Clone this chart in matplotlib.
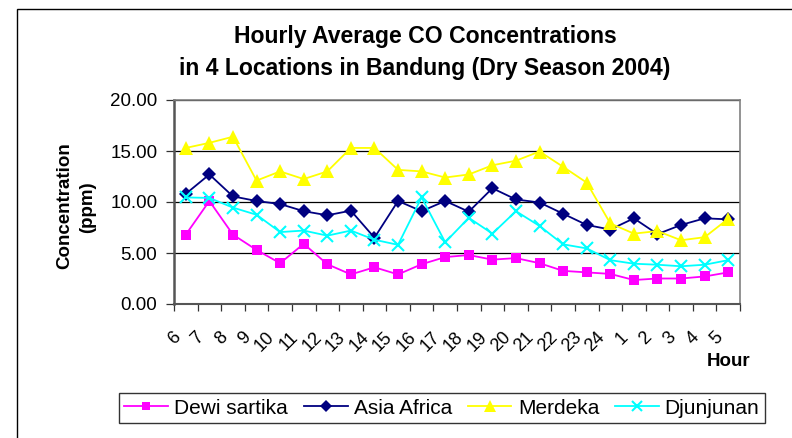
import matplotlib
matplotlib.use("Agg")
import matplotlib.pyplot as plt
from matplotlib.patches import Rectangle
from matplotlib.transforms import ScaledTranslation
from matplotlib.ticker import FormatStrFormatter, FixedLocator

plt.rcParams['font.family'] = ['Liberation Sans', 'DejaVu Sans']

hours = ["6", "7", "8", "9", "10", "11", "12", "13", "14", "15", "16", "17",
         "18", "19", "20", "21", "22", "23", "24", "1", "2", "3", "4", "5"]

dewi_sartika = [6.8, 10.1, 6.8, 5.3, 4.0, 5.9, 3.9, 2.9, 3.6, 2.9, 3.9, 4.6,
                4.8, 4.35, 4.5, 4.0, 3.25, 3.1, 2.95, 2.35, 2.5, 2.5, 2.7, 3.1]
asia_africa = [10.8, 12.7, 10.55, 10.1, 9.8, 9.1, 8.7, 9.15, 6.5, 10.1, 9.1, 10.1,
               9.05, 11.35, 10.25, 9.95, 8.85, 7.75, 7.3, 8.4, 6.85, 7.75, 8.4, 8.3]
merdeka = [15.3, 15.8, 16.4, 12.1, 13.0, 12.25, 13.0, 15.3, 15.3, 13.15, 13.0, 12.4,
           12.7, 13.6, 14.05, 14.95, 13.45, 11.9, 7.9, 6.9, 7.15, 6.25, 6.55, 8.35]
djunjunan = [10.45, 10.4, 9.45, 8.75, 7.05, 7.2, 6.7, 7.2, 6.3, 5.8, 10.45, 6.05,
             8.45, 6.9, 9.1, 7.65, 5.85, 5.45, 4.3, 3.95, 3.85, 3.7, 3.85, 4.3]

series_names = ["Dewi sartika", "Asia Africa", "Merdeka", "Djunjunan"]
yticks = [0, 5, 10, 15, 20]

W, H = 792, 438
fig = plt.figure(figsize=(W / 100, H / 100), dpi=100)
fig.patch.set_facecolor("white")

# outer chart-area border (only left and top visible)
fig.add_artist(Rectangle((16.5 / W, -1), 2, 2 - 8.5 / H, transform=fig.transFigure,
                         fill=False, edgecolor="black", linewidth=1.0))

ax = fig.add_axes([174 / W, 1 - 304 / H, (740 - 174) / W, (304 - 100) / H])

x = list(range(len(hours)))
styles = [
    dict(color="#FF00FF", marker="s", markersize=7.5, markeredgewidth=0),
    dict(color="#000080", marker="D", markersize=7, markeredgewidth=0),
    dict(color="#FFFF00", marker="^", markersize=10.5, markeredgewidth=0),
    dict(color="#00FFFF", marker="x", markersize=8, markeredgewidth=1.5),
]
data = [dewi_sartika, asia_africa, merdeka, djunjunan]
for name, vals, st in zip(series_names, data, styles):
    ax.plot(x, vals, label=name, linewidth=1.3, zorder=3, clip_on=False, **st)

ax.set_xlim(-0.5, len(hours) - 0.5)
ax.set_ylim(0, 20)
ax.yaxis.set_major_locator(FixedLocator(yticks))
ax.yaxis.set_major_formatter(FormatStrFormatter("%.2f"))
ax.grid(axis="y", color="black", linewidth=0.9, zorder=1)

# category boundary ticks (major) and label positions (minor)
ax.set_xticks([i - 0.5 for i in range(len(hours) + 1)])
ax.set_xticklabels([])
ax.set_xticks(x, minor=True)
ax.set_xticklabels(hours, minor=True, rotation=45, ha="right", va="center",
                   rotation_mode="anchor", fontsize=13)
ax.tick_params(axis="x", which="major", direction="out", length=5, width=0.9,
               color="#333333")
ax.tick_params(axis="x", which="minor", length=0, pad=22)
off = ScaledTranslation(-8 / 100, 0, fig.dpi_scale_trans)
for lbl in ax.get_xticklabels(minor=True):
    lbl.set_transform(lbl.get_transform() + off)

ax.tick_params(axis="y", direction="out", length=6, width=0.9, pad=6,
               labelsize=13.5, color="#333333")

for s in ["top", "right"]:
    ax.spines[s].set_color("#808080")
    ax.spines[s].set_linewidth(1.2)
ax.spines["left"].set_color("#555555")
ax.spines["left"].set_linewidth(1.8)
ax.spines["bottom"].set_color("#555555")
ax.spines["bottom"].set_linewidth(1.5)

# title
fig.text(425 / W, 1 - 37 / H, "Hourly Average CO Concentrations", ha="center",
         va="center", fontsize=16.6, fontweight="bold")
fig.text(425 / W, 1 - 69 / H, "in 4 Locations in Bandung (Dry Season 2004)",
         ha="center", va="center", fontsize=16.6, fontweight="bold")

# y axis title
fig.text(65 / W, 1 - 206 / H, "Concentration", rotation=90, ha="center",
         va="center", fontsize=13.5, fontweight="bold")
fig.text(88 / W, 1 - 207 / H, "(ppm)", rotation=90, ha="center",
         va="center", fontsize=13.5, fontweight="bold")

# x axis title
fig.text(750 / W, 1 - 362 / H, "Hour", ha="right", va="center",
         fontsize=13.5, fontweight="bold")

leg = fig.legend(loc="center", bbox_to_anchor=(442 / W, 1 - 408 / H), ncol=4,
                 fontsize=15, frameon=True, fancybox=False, edgecolor="black",
                 handlelength=2.1, handletextpad=0.3, columnspacing=0.75,
                 borderpad=0.25, markerscale=0.85)
leg.get_frame().set_linewidth(1.0)

fig.savefig("out.png", dpi=100, facecolor="white")
